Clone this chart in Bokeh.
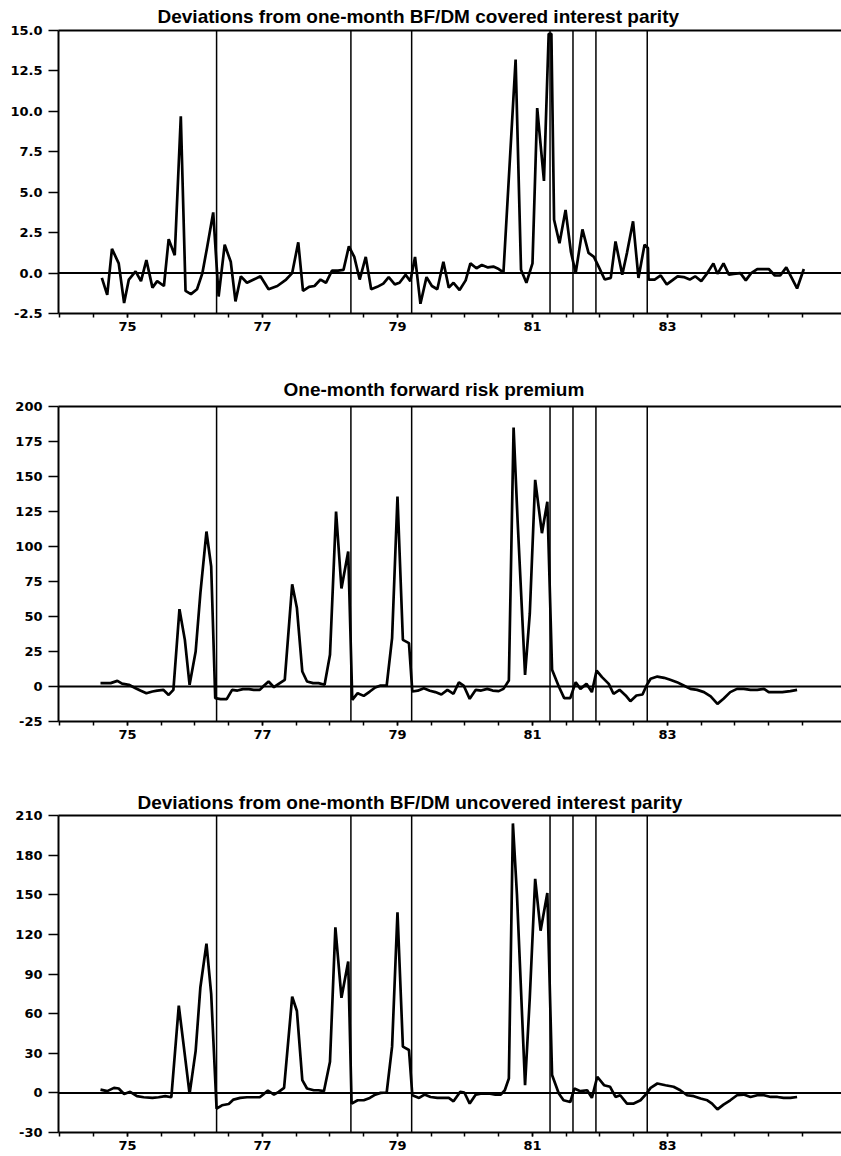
from bokeh.plotting import figure
from bokeh.layouts import column
from bokeh.models import Span, FixedTicker, PrintfTickFormatter, LinearAxis, Range1d
from bokeh.embed import file_html
from bokeh.resources import INLINE

# ---------------- data ----------------
titles = [
    "Deviations from one-month BF/DM covered interest parity",
    "One-month forward risk premium",
    "Deviations from one-month BF/DM uncovered interest parity",
]

# x labels: each label sits in the middle of its year
year_label_pos = [75.5, 77.5, 79.5, 81.5, 83.5]
year_labels = ["75", "77", "79", "81", "83"]
half_year_ticks = [74.5, 75.0, 75.5, 76.0, 76.5, 77.0, 77.5, 78.0, 78.5, 79.0, 79.5,
                   80.0, 80.5, 81.0, 81.5, 82.0, 82.5, 83.0, 83.5, 84.0, 84.5, 85.0, 85.5]

# exchange-rate realignment dates (vertical lines)
realignments = [76.82, 78.81, 79.71, 81.76, 82.10, 82.44, 83.20]

cip_dates = [75.12, 75.20, 75.27, 75.37, 75.45, 75.52, 75.62, 75.70, 75.78, 75.87,
             75.94, 76.04, 76.11, 76.20, 76.29, 76.36, 76.44, 76.53, 76.61, 76.68,
             76.77, 76.85, 76.94, 77.03, 77.10, 77.18, 77.27, 77.37, 77.47, 77.59,
             77.72, 77.85, 77.94, 78.03, 78.10, 78.19, 78.27, 78.36, 78.44, 78.53,
             78.62, 78.70, 78.78, 78.86, 78.94, 79.03, 79.11, 79.20, 79.29, 79.37,
             79.46, 79.53, 79.62, 79.69, 79.76, 79.84, 79.93, 80.01, 80.09, 80.18,
             80.26, 80.33, 80.42, 80.51, 80.58, 80.67, 80.75, 80.84, 80.92, 81.00,
             81.07, 81.25, 81.33, 81.41, 81.50, 81.57, 81.67, 81.74, 81.78, 81.82,
             81.90, 81.99, 82.07, 82.14, 82.24, 82.33, 82.41, 82.48, 82.57, 82.66,
             82.73, 82.83, 82.90, 82.99, 83.07, 83.16, 83.21, 83.22, 83.31, 83.40,
             83.49, 83.57, 83.65, 83.74, 83.83, 83.91, 84.00, 84.09, 84.18, 84.24,
             84.33, 84.41, 84.48, 84.58, 84.66, 84.74, 84.83, 84.92, 85.00, 85.09,
             85.17, 85.26, 85.42, 85.52]
cip_values = [-0.3, -1.35, 1.5, 0.6, -1.85, -0.4, 0.1, -0.5, 0.8, -0.9,
              -0.5, -0.8, 2.1, 1.1, 9.7, -1.1, -1.3, -1.0, 0.0, 1.6,
              3.75, -1.45, 1.75, 0.7, -1.75, -0.2, -0.6, -0.4, -0.2, -1.0,
              -0.8, -0.4, 0.0, 1.9, -1.1, -0.85, -0.8, -0.4, -0.6, 0.15,
              0.15, 0.2, 1.65, 1.0, -0.4, 1.0, -1.0, -0.85, -0.65, -0.25,
              -0.7, -0.6, -0.1, -0.5, 1.0, -1.9, -0.25, -0.8, -1.0, 0.7,
              -0.9, -0.6, -1.05, -0.45, 0.6, 0.3, 0.5, 0.35, 0.4, 0.25,
              0.05, 13.2, 0.2, -0.6, 0.6, 10.2, 5.7, 14.8, 14.8, 3.3,
              1.85, 3.9, 1.3, 0.0, 2.7, 1.25, 1.0, 0.4, -0.4, -0.3,
              1.95, -0.1, 1.25, 3.2, -0.3, 1.75, 1.55, -0.4, -0.4, -0.15,
              -0.7, -0.45, -0.2, -0.25, -0.4, -0.2, -0.5, 0.0, 0.6, -0.05,
              0.6, -0.1, -0.05, 0.0, -0.45, 0.0, 0.25, 0.25, 0.25, -0.15,
              -0.15, 0.35, -0.95, 0.25]

rp_dates = [75.10, 75.25, 75.35, 75.42, 75.52, 75.62, 75.69, 75.78, 75.87, 75.94,
            76.03, 76.11, 76.18, 76.27, 76.35, 76.42, 76.51, 76.58, 76.67, 76.74,
            76.80, 76.88, 76.97, 77.05, 77.13, 77.21, 77.30, 77.37, 77.46, 77.52,
            77.59, 77.67, 77.74, 77.83, 77.94, 78.01, 78.09, 78.16, 78.25, 78.33,
            78.42, 78.50, 78.59, 78.67, 78.77, 78.83, 78.91, 79.00, 79.09, 79.17,
            79.25, 79.34, 79.42, 79.50, 79.58, 79.67, 79.72, 79.80, 79.89, 79.98,
            80.06, 80.15, 80.24, 80.33, 80.41, 80.48, 80.57, 80.66, 80.74, 80.83,
            80.91, 81.00, 81.07, 81.15, 81.22, 81.28, 81.39, 81.46, 81.54, 81.64,
            81.72, 81.79, 81.89, 81.97, 82.06, 82.14, 82.21, 82.30, 82.38, 82.45,
            82.53, 82.63, 82.70, 82.79, 82.88, 82.95, 83.04, 83.13, 83.19, 83.25,
            83.35, 83.45, 83.54, 83.64, 83.74, 83.84, 83.94, 84.04, 84.14, 84.24,
            84.33, 84.43, 84.53, 84.63, 84.73, 84.83, 84.93, 85.00, 85.10, 85.20,
            85.32, 85.42]
rp_values = [2.4, 2.4, 4.0, 2.0, 1.2, -1.2, -2.9, -4.8, -3.6, -2.9,
             -2.4, -6.0, -2.4, 55.2, 33.3, 1.2, 25.0, 66.7, 110.7, 85.7,
             -8.3, -9.0, -9.0, -2.4, -2.9, -1.9, -1.9, -2.4, -2.4, 0.5,
             3.6, -0.5, 1.9, 4.8, 73.0, 56.0, 10.7, 3.6, 2.4, 2.4,
             1.2, 22.6, 125.0, 70.0, 96.4, -9.5, -4.8, -6.7, -3.6, -0.7,
             0.7, 0.7, 34.5, 135.7, 33.3, 31.0, -3.6, -3.0, -1.2, -3.0,
             -4.0, -5.7, -2.4, -5.2, 2.9, 0.7, -8.8, -2.4, -2.9, -1.7,
             -2.9, -3.3, -1.7, 4.3, 185.0, 118.0, 8.3, 52.0, 147.6, 109.5,
             132.0, 11.9, 0.0, -8.3, -8.3, 3.1, -1.7, 1.9, -4.0, 11.4,
             6.7, 1.9, -5.2, -2.4, -6.4, -10.5, -6.4, -5.7, 0.7, 5.5,
             7.1, 6.2, 4.8, 3.1, 0.7, -1.7, -2.4, -4.0, -7.1, -12.4,
             -8.8, -4.0, -1.7, -1.7, -2.4, -2.4, -1.7, -4.0, -4.0, -4.0,
             -3.3, -2.4]

uip_dates = [75.10, 75.20, 75.30, 75.37, 75.45, 75.54, 75.64, 75.74, 75.87, 75.96,
             76.06, 76.15, 76.26, 76.33, 76.42, 76.51, 76.58, 76.67, 76.74, 76.82,
             76.90, 77.00, 77.07, 77.17, 77.27, 77.37, 77.46, 77.52, 77.58, 77.67,
             77.74, 77.82, 77.94, 78.01, 78.09, 78.16, 78.26, 78.33, 78.41, 78.50,
             78.58, 78.67, 78.77, 78.82, 78.91, 79.00, 79.09, 79.17, 79.25, 79.34,
             79.42, 79.50, 79.58, 79.67, 79.72, 79.82, 79.90, 79.99, 80.09, 80.19,
             80.26, 80.33, 80.43, 80.49, 80.57, 80.66, 80.75, 80.85, 80.95, 81.03,
             81.09, 81.15, 81.21, 81.27, 81.39, 81.46, 81.54, 81.62, 81.72, 81.79,
             81.89, 81.96, 82.06, 82.12, 82.21, 82.31, 82.38, 82.46, 82.56, 82.65,
             82.73, 82.80, 82.90, 83.00, 83.10, 83.19, 83.25, 83.35, 83.47, 83.59,
             83.69, 83.79, 83.89, 83.99, 84.09, 84.16, 84.24, 84.33, 84.43, 84.53,
             84.63, 84.73, 84.83, 84.93, 85.03, 85.13, 85.22, 85.32, 85.42]
uip_values = [2.5, 1.3, 3.8, 3.3, -0.8, 0.8, -2.5, -3.3, -3.8, -3.3,
              -2.5, -3.3, 66.0, 36.9, -0.8, 31.8, 80.0, 113.0, 75.0, -12.0,
              -9.4, -8.4, -5.1, -3.8, -3.3, -3.3, -3.3, -0.8, 1.8, -1.3,
              0.8, 3.8, 72.8, 62.0, 9.7, 3.3, 2.0, 2.0, 1.3, 23.6,
              125.4, 72.0, 99.4, -8.1, -5.6, -5.6, -3.8, -1.3, 0.0, 0.3,
              35.0, 136.8, 35.0, 32.5, -1.8, -3.8, -1.3, -3.1, -3.8, -3.8,
              -3.8, -6.4, 0.8, 0.3, -8.1, -1.3, -0.5, -0.5, -1.3, -1.3,
              2.0, 10.9, 204.0, 150.0, 5.8, 72.0, 162.0, 122.8, 151.3, 13.5,
              -0.5, -5.6, -6.9, 3.3, 1.3, 2.0, -3.8, 12.2, 5.8, 4.6,
              -3.1, -1.8, -8.1, -8.1, -5.6, -0.5, 3.8, 7.1, 5.8, 4.6,
              2.0, -1.8, -2.5, -4.3, -5.6, -8.1, -12.5, -8.9, -5.6, -1.8,
              -1.3, -3.1, -1.8, -1.8, -3.1, -3.1, -3.8, -3.8, -3.1]

cip_ticks = [-2.5, 0.0, 2.5, 5.0, 7.5, 10.0, 12.5, 15.0]
rp_ticks = [-25, 0, 25, 50, 75, 100, 125, 150, 175, 200]
uip_ticks = [-30, 0, 30, 60, 90, 120, 150, 180, 210]

# ---------------- drawing ----------------
FIG_W = 841
X_START, X_END = 74.478, 86.078
TICK_FONT = "DejaVu Sans"
TITLE_FONT = "Liberation Sans"
INK = "#000000"


def make_panel(title, dates, values, y_ticks, y_fmt, height, border_top, border_bottom,
               title_offset, title_standoff):
    p = figure(width=FIG_W, height=height,
               x_range=Range1d(X_START, X_END),
               y_range=Range1d(y_ticks[0], y_ticks[-1]),
               output_backend="svg", toolbar_location=None,
               x_axis_type=None, y_axis_type=None,
               min_border_left=58, min_border_right=0,
               min_border_top=border_top, min_border_bottom=border_bottom,
               title=title)
    p.outline_line_color = None
    p.background_fill_color = "white"
    p.border_fill_color = "white"

    p.title.align = "left"
    p.title.offset = title_offset
    p.title.standoff = title_standoff
    p.title.text_font = TITLE_FONT
    p.title.text_font_size = "19px"
    p.title.text_font_style = "bold"
    p.title.text_color = INK

    xaxis = LinearAxis(
        ticker=FixedTicker(ticks=year_label_pos, minor_ticks=half_year_ticks),
        major_label_overrides={k: v for k, v in zip(year_label_pos, year_labels)},
        axis_line_width=2, axis_line_color=INK,
        major_tick_out=4, major_tick_in=0, major_tick_line_width=1.5, major_tick_line_color=INK,
        minor_tick_out=4, minor_tick_in=0, minor_tick_line_width=1.5, minor_tick_line_color=INK,
        major_label_standoff=4,
        major_label_text_font=TICK_FONT, major_label_text_font_size="13px",
        major_label_text_font_style="bold", major_label_text_color=INK,
    )
    p.add_layout(xaxis, "below")

    yaxis = LinearAxis(
        ticker=FixedTicker(ticks=y_ticks),
        formatter=PrintfTickFormatter(format=y_fmt),
        axis_line_width=2, axis_line_color=INK,
        major_tick_out=10, major_tick_in=0, major_tick_line_width=1.5, major_tick_line_color=INK,
        minor_tick_line_color=None,
        major_label_standoff=6,
        major_label_text_font=TICK_FONT, major_label_text_font_size="13px",
        major_label_text_font_style="bold", major_label_text_color=INK,
    )
    p.add_layout(yaxis, "left")

    top_line = LinearAxis(
        ticker=FixedTicker(ticks=[]),
        axis_line_width=2, axis_line_color=INK,
        major_tick_out=0, major_tick_in=0, major_tick_line_color=None,
        minor_tick_out=0, minor_tick_in=0, minor_tick_line_color=None,
        major_label_standoff=0, major_label_text_font_size="0px",
    )
    p.add_layout(top_line, "above")

    p.add_layout(Span(location=0, dimension="width", line_color=INK, line_width=2))
    for d in realignments:
        p.add_layout(Span(location=d, dimension="height", line_color=INK, line_width=1.5))

    p.line(dates, values, line_color=INK, line_width=2.7)
    return p


p1 = make_panel(titles[0], cip_dates, cip_values, cip_ticks, "%.1f",
                height=370, border_top=30, border_bottom=57, title_offset=99, title_standoff=7)
p2 = make_panel(titles[1], rp_dates, rp_values, rp_ticks, "%d",
                height=387, border_top=36, border_bottom=36, title_offset=225, title_standoff=13)
p3 = make_panel(titles[2], uip_dates, uip_values, uip_ticks, "%d",
                height=399, border_top=58, border_bottom=24, title_offset=79, title_standoff=6)

layout = column(p1, p2, p3)
open("out.html", "w").write(file_html(layout, INLINE))
